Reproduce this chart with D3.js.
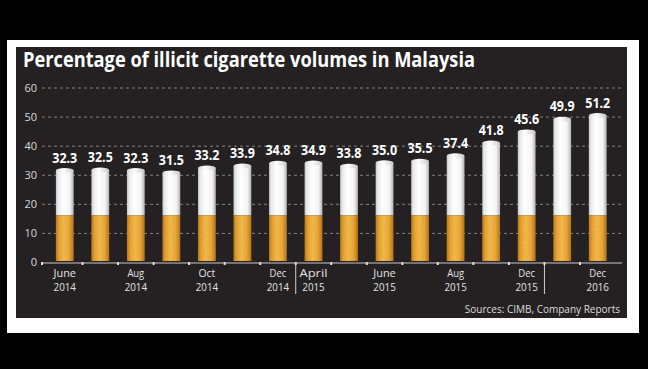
<!DOCTYPE html>
<html><head><meta charset="utf-8">
<script src="https://cdn.jsdelivr.net/npm/d3@7"></script>
<style>html,body{margin:0;padding:0;background:#000;}svg{display:block;}</style>
</head><body>
<script>
// ---- data ----
const categories = ["Jun 2014","Jul 2014","Aug 2014","Sep 2014","Oct 2014","Nov 2014","Dec 2014",
  "Apr 2015","May 2015","Jun 2015","Jul 2015","Aug 2015","Oct 2015","Dec 2015","Jun 2016","Dec 2016"];
const values = [32.3,32.5,32.3,31.5,33.2,33.9,34.8,34.9,33.8,35.0,35.5,37.4,41.8,45.6,49.9,51.2];
const valueLabels = ["32.3","32.5","32.3","31.5","33.2","33.9","34.8","34.9","33.8","35.0","35.5","37.4","41.8","45.6","49.9","51.2"];
const tickLabels = [["June","2014"],null,["Aug","2014"],null,["Oct","2014"],null,["Dec","2014"],
  ["April","2015"],null,["June","2015"],null,["Aug","2015"],null,["Dec","2015"],null,["Dec","2016"]];
const separatorsAfter = ["Dec 2014","Dec 2015"];
const filterLevel = 16;
const yTicks = [0,10,20,30,40,50,60];
const title = "Percentage of illicit cigarette volumes in Malaysia";
const source = "Sources: CIMB, Company Reports";

// ---- layout ----
const W = 648, H = 369;
const svg = d3.select("body").append("svg").attr("width", W).attr("height", H);
svg.append("rect").attr("width", W).attr("height", H).attr("fill", "#000");
svg.append("rect").attr("x", 7).attr("y", 40).attr("width", 632).attr("height", 293).attr("fill", "#fff");
svg.append("rect").attr("x", 16).attr("y", 47).attr("width", 611).attr("height", 271).attr("fill", "#252122");

const defs = svg.append("defs");
const gp = defs.append("linearGradient").attr("id", "paper").attr("x1", 0).attr("x2", 1).attr("y1", 0).attr("y2", 0);
[[0,"#c2c4c8"],[0.12,"#e8e9ec"],[0.4,"#ffffff"],[0.78,"#f4f4f5"],[1,"#b2b3b6"]].forEach(s =>
  gp.append("stop").attr("offset", s[0]).attr("stop-color", s[1]));
const gf = defs.append("linearGradient").attr("id", "filt").attr("x1", 0).attr("x2", 1).attr("y1", 0).attr("y2", 0);
[[0,"#b87418"],[0.18,"#e6a232"],[0.45,"#f6bb4c"],[0.75,"#eaa737"],[1,"#b06e14"]].forEach(s =>
  gf.append("stop").attr("offset", s[0]).attr("stop-color", s[1]));
const gc = defs.append("linearGradient").attr("id", "cap").attr("x1", 0).attr("x2", 1).attr("y1", 0).attr("y2", 0);
[[0,"#d4d5d8"],[0.4,"#ffffff"],[1,"#c8c9cc"]].forEach(s =>
  gc.append("stop").attr("offset", s[0]).attr("stop-color", s[1]));
// speckle texture for the filter
const fl = defs.append("filter").attr("id", "speck").attr("x", 0).attr("y", 0).attr("width", 1).attr("height", 1);
fl.append("feTurbulence").attr("type", "fractalNoise").attr("baseFrequency", 0.9).attr("numOctaves", 2).attr("result", "n");
fl.append("feColorMatrix").attr("in", "n").attr("type", "matrix")
  .attr("values", "0 0 0 0 0.55  0 0 0 0 0.32  0 0 0 0 0.05  0 0 0 -1.2 0.7").attr("result", "c");
fl.append("feComposite").attr("in", "c").attr("in2", "SourceGraphic").attr("operator", "in").attr("result", "t");
const fm = fl.append("feMerge");
fm.append("feMergeNode").attr("in", "SourceGraphic");
fm.append("feMergeNode").attr("in", "t");

const x = d3.scaleBand().domain(categories).range([47, 615.5]).paddingInner(0.5).paddingOuter(0.25);
const y = d3.scaleLinear().domain([0, 60]).range([262, 87.5]);
const bw = x.bandwidth();

// title
svg.append("text").attr("x", 23).attr("y", 67).attr("fill", "#fff")
  .attr("font-family", "Open Sans").attr("font-weight", 700).attr("font-size", 21)
  .attr("textLength", 452).attr("lengthAdjust", "spacingAndGlyphs").text(title);

// grid
const grid = svg.append("g");
grid.selectAll("line").data(yTicks.filter(d => d > 0)).join("line")
  .attr("x1", 42).attr("x2", 621).attr("y1", d => y(d) + 0.5).attr("y2", d => y(d) + 0.5)
  .attr("stroke", "#858283").attr("stroke-width", 1).attr("stroke-dasharray", "3,3");
grid.selectAll("text").data(yTicks).join("text")
  .attr("x", 37).attr("y", d => y(d) + 4).attr("text-anchor", "end")
  .attr("fill", "#d8d8d8").attr("font-family", "Open Sans").attr("font-size", 11).text(d => d);

// bars
const bars = svg.append("g").selectAll("g").data(categories).join("g");
bars.append("rect").attr("x", d => x(d)).attr("width", bw)
  .attr("y", (d, i) => y(values[i]) + 2.5).attr("height", (d, i) => y(filterLevel) - y(values[i]) - 2.5)
  .attr("fill", "url(#paper)");
bars.append("ellipse").attr("cx", d => x(d) + bw / 2).attr("rx", bw / 2).attr("ry", 2.5)
  .attr("cy", (d, i) => y(values[i]) + 2.5).attr("fill", "url(#cap)");
bars.append("rect").attr("x", d => x(d)).attr("width", bw)
  .attr("y", y(filterLevel)).attr("height", y(0) - y(filterLevel) - 1)
  .attr("fill", "url(#filt)").attr("filter", "url(#speck)");
bars.append("text").attr("x", d => x(d) + bw / 2).attr("y", (d, i) => y(values[i]) - 5.5)
  .attr("text-anchor", "middle").attr("fill", "#fff").attr("font-family", "Open Sans")
  .attr("font-weight", 700).attr("font-size", 14.5)
  .attr("textLength", 25).attr("lengthAdjust", "spacingAndGlyphs").text((d, i) => valueLabels[i]);

// x axis
svg.append("line").attr("x1", 42).attr("x2", 622).attr("y1", 263).attr("y2", 263)
  .attr("stroke", "#c8c8c8").attr("stroke-width", 1);
const bounds = [42].concat(categories.slice(1).map(d => x(d) - x.step() * x.paddingInner() / 2));
svg.append("g").selectAll("rect").data(bounds).join("rect")
  .attr("x", d => d - 1).attr("y", 262).attr("width", 2).attr("height", 3).attr("fill", "#e0e0e0");
const xl = svg.append("g").selectAll("text").data(categories.filter((d, i) => tickLabels[i])).join("text")
  .attr("text-anchor", "middle").attr("fill", "#e2e2e2").attr("font-family", "Open Sans").attr("font-size", 11.5);
xl.each(function(d) {
  const i = categories.indexOf(d);
  const t = d3.select(this);
  tickLabels[i].forEach((s, k) => t.append("tspan").attr("x", x(d) + bw / 2).attr("y", 277 + k * 14)
    .attr("textLength", s.length * 5.6).attr("lengthAdjust", "spacingAndGlyphs").text(s));
});
svg.append("g").selectAll("line").data(separatorsAfter).join("line")
  .attr("x1", d => x(d) + bw + (x.step() - bw) / 2).attr("x2", d => x(d) + bw + (x.step() - bw) / 2)
  .attr("y1", 265).attr("y2", 294).attr("stroke", "#cfcfcf").attr("stroke-width", 1);

// source
svg.append("text").attr("x", 620).attr("y", 313).attr("text-anchor", "end").attr("fill", "#dcdcdc")
  .attr("font-family", "Open Sans").attr("font-size", 10).text(source);
</script>
</body></html>
